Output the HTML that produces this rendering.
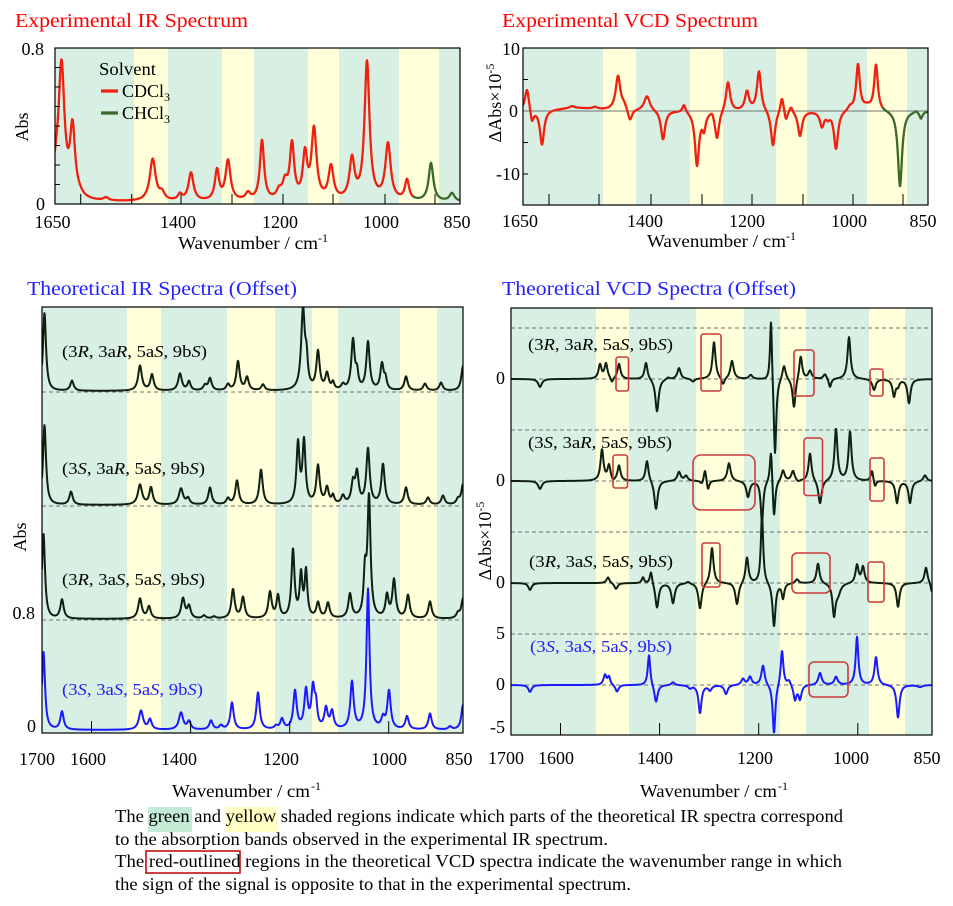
<!DOCTYPE html>
<html><head><meta charset="utf-8">
<style>
html,body{margin:0;padding:0;background:#fff;width:953px;height:906px;overflow:hidden;}
svg{display:block;}
text{font-family:"Liberation Serif",serif;fill:#000;}
</style></head>
<body>
<svg id="s" width="953" height="906" viewBox="0 0 953 906" xmlns="http://www.w3.org/2000/svg">
<defs>
<clipPath id="c1"><rect x="55" y="48" width="405" height="156"/></clipPath>
<clipPath id="c2"><rect x="523" y="48" width="405" height="157"/></clipPath>
<clipPath id="c3"><rect x="42" y="307" width="421" height="426"/></clipPath>
<clipPath id="c4"><rect x="511" y="308" width="421" height="427"/></clipPath>
</defs>
<rect width="953" height="906" fill="#fff"/>

<!-- Titles -->
<text x="15" y="27" font-size="20" style="fill:#ff0000" textLength="233" lengthAdjust="spacingAndGlyphs">Experimental IR Spectrum</text>
<text x="502" y="27" font-size="20" style="fill:#ff0000" textLength="256" lengthAdjust="spacingAndGlyphs">Experimental VCD Spectrum</text>
<text x="27" y="295" font-size="20" style="fill:#2222ff" textLength="270" lengthAdjust="spacingAndGlyphs">Theoretical IR Spectra (Offset)</text>
<text x="502" y="295" font-size="20" style="fill:#2222ff" textLength="294" lengthAdjust="spacingAndGlyphs">Theoretical VCD Spectra (Offset)</text>

<!-- Top-left bands -->
<g>
<rect x="55" y="48" width="79" height="156" fill="#d8f0e3"/>
<rect x="134" y="48" width="34" height="156" fill="#ffffda"/>
<rect x="168" y="48" width="54" height="156" fill="#d8f0e3"/>
<rect x="222" y="48" width="32" height="156" fill="#ffffda"/>
<rect x="254" y="48" width="54" height="156" fill="#d8f0e3"/>
<rect x="308" y="48" width="31" height="156" fill="#ffffda"/>
<rect x="339" y="48" width="60" height="156" fill="#d8f0e3"/>
<rect x="399" y="48" width="40" height="156" fill="#ffffda"/>
<rect x="439" y="48" width="21" height="156" fill="#d8f0e3"/>
</g>
<!-- Top-right bands -->
<g>
<rect x="523" y="48" width="80" height="157" fill="#d8f0e3"/>
<rect x="603" y="48" width="33" height="157" fill="#ffffda"/>
<rect x="636" y="48" width="54" height="157" fill="#d8f0e3"/>
<rect x="690" y="48" width="33" height="157" fill="#ffffda"/>
<rect x="723" y="48" width="53" height="157" fill="#d8f0e3"/>
<rect x="776" y="48" width="31" height="157" fill="#ffffda"/>
<rect x="807" y="48" width="60" height="157" fill="#d8f0e3"/>
<rect x="867" y="48" width="40" height="157" fill="#ffffda"/>
<rect x="907" y="48" width="21" height="157" fill="#d8f0e3"/>
</g>
<!-- Bottom-left bands -->
<g>
<rect x="42" y="307" width="85" height="426" fill="#d8f0e3"/>
<rect x="127" y="307" width="34" height="426" fill="#ffffda"/>
<rect x="161" y="307" width="66" height="426" fill="#d8f0e3"/>
<rect x="227" y="307" width="48" height="426" fill="#ffffda"/>
<rect x="275" y="307" width="37" height="426" fill="#d8f0e3"/>
<rect x="312" y="307" width="26" height="426" fill="#ffffda"/>
<rect x="338" y="307" width="62" height="426" fill="#d8f0e3"/>
<rect x="400" y="307" width="37" height="426" fill="#ffffda"/>
<rect x="437" y="307" width="26" height="426" fill="#d8f0e3"/>
</g>
<!-- Bottom-right bands -->
<g>
<rect x="511" y="308" width="85" height="427" fill="#d8f0e3"/>
<rect x="596" y="308" width="33" height="427" fill="#ffffda"/>
<rect x="629" y="308" width="67" height="427" fill="#d8f0e3"/>
<rect x="696" y="308" width="48" height="427" fill="#ffffda"/>
<rect x="744" y="308" width="36" height="427" fill="#d8f0e3"/>
<rect x="780" y="308" width="26" height="427" fill="#ffffda"/>
<rect x="806" y="308" width="63" height="427" fill="#d8f0e3"/>
<rect x="869" y="308" width="36" height="427" fill="#ffffda"/>
<rect x="905" y="308" width="27" height="427" fill="#d8f0e3"/>
</g>

<!-- zero / dashed lines -->
<line x1="523" y1="111" x2="928" y2="111" stroke="#707070" stroke-width="1"/>
<g stroke="#707070" stroke-width="1" stroke-dasharray="4 3">
<line x1="42" y1="392" x2="463" y2="392"/>
<line x1="42" y1="506" x2="463" y2="506"/>
<line x1="42" y1="620" x2="463" y2="620"/>
<line x1="511" y1="328" x2="932" y2="328"/>
<line x1="511" y1="379" x2="932" y2="379"/>
<line x1="511" y1="430" x2="932" y2="430"/>
<line x1="511" y1="481" x2="932" y2="481"/>
<line x1="511" y1="532" x2="932" y2="532"/>
<line x1="511" y1="583" x2="932" y2="583"/>
<line x1="511" y1="634" x2="932" y2="634"/>
<line x1="511" y1="685" x2="932" y2="685"/>
</g>

<g id="curves"></g>

<!-- frames -->
<g fill="none" stroke="#000" stroke-width="1.2">
<rect x="55" y="48" width="405" height="156"/>
<rect x="523" y="48" width="405" height="157"/>
<rect x="42" y="307" width="421" height="426"/>
<rect x="511" y="308" width="421" height="427"/>
</g>
<!-- ticks -->
<g stroke="#000" stroke-width="1">
<line x1="80.7" y1="204" x2="80.7" y2="194"/><line x1="131.7" y1="204" x2="131.7" y2="194"/>
<line x1="181" y1="204" x2="181" y2="194"/><line x1="232" y1="204" x2="232" y2="194"/>
<line x1="283" y1="204" x2="283" y2="194"/><line x1="333" y1="204" x2="333" y2="194"/>
<line x1="385" y1="204" x2="385" y2="194"/><line x1="435" y1="204" x2="435" y2="194"/>
<line x1="55" y1="67.5" x2="60" y2="67.5"/><line x1="55" y1="87" x2="60" y2="87"/>
<line x1="55" y1="106.5" x2="60" y2="106.5"/><line x1="55" y1="126" x2="60" y2="126"/>
<line x1="55" y1="145.5" x2="60" y2="145.5"/><line x1="55" y1="165" x2="60" y2="165"/>
<line x1="55" y1="184.5" x2="60" y2="184.5"/>

<line x1="549" y1="205" x2="549" y2="194"/><line x1="599" y1="205" x2="599" y2="194"/>
<line x1="651" y1="205" x2="651" y2="194"/><line x1="702" y1="205" x2="702" y2="194"/>
<line x1="752" y1="205" x2="752" y2="194"/><line x1="803" y1="205" x2="803" y2="194"/>
<line x1="853" y1="205" x2="853" y2="194"/><line x1="903" y1="205" x2="903" y2="194"/>
<line x1="523" y1="79.5" x2="528" y2="79.5"/><line x1="523" y1="142.5" x2="528" y2="142.5"/>
<line x1="523" y1="174" x2="528" y2="174"/>

<line x1="91.5" y1="733" x2="91.5" y2="721"/><line x1="190.6" y1="733" x2="190.6" y2="721"/>
<line x1="289.7" y1="733" x2="289.7" y2="721"/><line x1="388.7" y1="733" x2="388.7" y2="721"/>

<line x1="560.5" y1="735" x2="560.5" y2="723"/><line x1="659.6" y1="735" x2="659.6" y2="723"/>
<line x1="758.7" y1="735" x2="758.7" y2="723"/><line x1="857.8" y1="735" x2="857.8" y2="723"/>
</g>

<!-- Top-left labels -->
<g font-size="18">
<text x="44" y="55" text-anchor="end">0.8</text>
<text x="45" y="210" text-anchor="end">0</text>
<text x="52.5" y="228" text-anchor="middle">1650</text>
<text x="178" y="228" text-anchor="middle">1400</text>
<text x="280" y="228" text-anchor="middle">1200</text>
<text x="381" y="228" text-anchor="middle">1000</text>
<text x="457" y="228" text-anchor="middle">850</text>
<text x="178" y="249" textLength="140" lengthAdjust="spacingAndGlyphs">Wavenumber / cm</text><text x="318" y="242" font-size="12">-1</text>
<text transform="translate(28,127) rotate(-90)" text-anchor="middle">Abs</text>
<text x="99" y="75" textLength="57" lengthAdjust="spacingAndGlyphs">Solvent</text>
<text x="122" y="97">CDCl<tspan font-size="12" dy="4">3</tspan></text>
<text x="122" y="119">CHCl<tspan font-size="12" dy="4">3</tspan></text>
</g>
<line x1="101" y1="91" x2="118" y2="91" stroke="#f02010" stroke-width="3.2"/>
<line x1="101" y1="113" x2="118" y2="113" stroke="#3b6a28" stroke-width="3.2"/>

<!-- Top-right labels -->
<g font-size="18">
<text x="520" y="55" text-anchor="end">10</text>
<text x="518" y="117" text-anchor="end">0</text>
<text x="520" y="180" text-anchor="end">-10</text>
<text x="520" y="227" text-anchor="middle">1650</text>
<text x="645" y="227" text-anchor="middle">1400</text>
<text x="747" y="227" text-anchor="middle">1200</text>
<text x="849" y="227" text-anchor="middle">1000</text>
<text x="923" y="227" text-anchor="middle">850</text>
<text x="647" y="247" textLength="139" lengthAdjust="spacingAndGlyphs">Wavenumber / cm</text><text x="786" y="240" font-size="12">-1</text>
<text transform="translate(501,103) rotate(-90)" text-anchor="middle">ΔAbs×10<tspan font-size="12" dy="-7">-5</tspan></text>
</g>

<!-- Bottom-left labels -->
<g font-size="18">
<text x="35" y="619" text-anchor="end">0.8</text>
<text x="36" y="732" text-anchor="end">0</text>
<text x="37" y="765" text-anchor="middle">1700</text>
<text x="88" y="765" text-anchor="middle">1600</text>
<text x="179" y="765" text-anchor="middle">1400</text>
<text x="281" y="765" text-anchor="middle">1200</text>
<text x="389" y="765" text-anchor="middle">1000</text>
<text x="459" y="765" text-anchor="middle">850</text>
<text x="172" y="797" textLength="138" lengthAdjust="spacingAndGlyphs">Wavenumber / cm</text><text x="311" y="790" font-size="12">-1</text>
<text transform="translate(26,537) rotate(-90)" text-anchor="middle">Abs</text>
</g>
<g font-size="17">
<text x="62" y="357" textLength="145" lengthAdjust="spacingAndGlyphs">(3<tspan font-style="italic">R</tspan>, 3a<tspan font-style="italic">R</tspan>, 5a<tspan font-style="italic">S</tspan>, 9b<tspan font-style="italic">S</tspan>)</text>
<text x="62" y="474" textLength="143" lengthAdjust="spacingAndGlyphs">(3<tspan font-style="italic">S</tspan>, 3a<tspan font-style="italic">R</tspan>, 5a<tspan font-style="italic">S</tspan>, 9b<tspan font-style="italic">S</tspan>)</text>
<text x="62" y="585" textLength="143" lengthAdjust="spacingAndGlyphs">(3<tspan font-style="italic">R</tspan>, 3a<tspan font-style="italic">S</tspan>, 5a<tspan font-style="italic">S</tspan>, 9b<tspan font-style="italic">S</tspan>)</text>
<text x="62" y="695" textLength="141" lengthAdjust="spacingAndGlyphs" style="fill:#2020ff">(3<tspan font-style="italic">S</tspan>, 3a<tspan font-style="italic">S</tspan>, 5a<tspan font-style="italic">S</tspan>, 9b<tspan font-style="italic">S</tspan>)</text>
</g>

<!-- Bottom-right labels -->
<g font-size="18">
<text x="505" y="384" text-anchor="end">0</text>
<text x="505" y="486" text-anchor="end">0</text>
<text x="505" y="588" text-anchor="end">0</text>
<text x="505" y="639" text-anchor="end">5</text>
<text x="505" y="690" text-anchor="end">0</text>
<text x="505" y="733" text-anchor="end">-5</text>
<text x="506" y="764" text-anchor="middle">1700</text>
<text x="556" y="764" text-anchor="middle">1600</text>
<text x="655" y="764" text-anchor="middle">1400</text>
<text x="755" y="764" text-anchor="middle">1200</text>
<text x="851" y="764" text-anchor="middle">1000</text>
<text x="927" y="764" text-anchor="middle">850</text>
<text x="640" y="797" textLength="137" lengthAdjust="spacingAndGlyphs">Wavenumber / cm</text><text x="778" y="790" font-size="12">-1</text>
<text transform="translate(491,541) rotate(-90)" text-anchor="middle">ΔAbs×10<tspan font-size="12" dy="-7">-5</tspan></text>
</g>
<g font-size="17">
<text x="528" y="350" textLength="145" lengthAdjust="spacingAndGlyphs">(3<tspan font-style="italic">R</tspan>, 3a<tspan font-style="italic">R</tspan>, 5a<tspan font-style="italic">S</tspan>, 9b<tspan font-style="italic">S</tspan>)</text>
<text x="528" y="448" textLength="144" lengthAdjust="spacingAndGlyphs">(3<tspan font-style="italic">S</tspan>, 3a<tspan font-style="italic">R</tspan>, 5a<tspan font-style="italic">S</tspan>, 9b<tspan font-style="italic">S</tspan>)</text>
<text x="529" y="567" textLength="144" lengthAdjust="spacingAndGlyphs">(3<tspan font-style="italic">R</tspan>, 3a<tspan font-style="italic">S</tspan>, 5a<tspan font-style="italic">S</tspan>, 9b<tspan font-style="italic">S</tspan>)</text>
<text x="530" y="652" textLength="142" lengthAdjust="spacingAndGlyphs" style="fill:#2020ff">(3<tspan font-style="italic">S</tspan>, 3a<tspan font-style="italic">S</tspan>, 5a<tspan font-style="italic">S</tspan>, 9b<tspan font-style="italic">S</tspan>)</text>
</g>

<!-- Red boxes -->
<g fill="none" stroke="#cc3b3b" stroke-width="1.6">
<rect x="616" y="357" width="12.5" height="34" rx="2.5"/>
<rect x="701" y="334" width="20" height="57" rx="2.5"/>
<rect x="794" y="350" width="20" height="46" rx="3"/>
<rect x="870" y="369" width="13" height="27" rx="2.5"/>
<rect x="613" y="455" width="14.5" height="33" rx="2.5"/>
<rect x="693" y="455" width="62" height="55" rx="8"/>
<rect x="804" y="438" width="18.5" height="57.5" rx="3"/>
<rect x="870" y="458" width="14" height="43" rx="2.5"/>
<rect x="702" y="543" width="18" height="44" rx="2.5"/>
<rect x="792" y="553" width="38" height="40" rx="5"/>
<rect x="868" y="562" width="16" height="40" rx="2.5"/>
<rect x="809" y="662" width="39" height="35" rx="5"/>
</g>

<!-- Caption -->
<rect x="148" y="807" width="44" height="25" fill="#c3ead5"/>
<rect x="225" y="807" width="53" height="25" fill="#ffffc4"/>
<rect x="146" y="851" width="94" height="22" fill="none" stroke="#c01010" stroke-width="1.6"/>
<g font-size="18">
<text x="115" y="822" textLength="728" lengthAdjust="spacingAndGlyphs">The green and yellow shaded regions indicate which parts of the theoretical IR spectra correspond</text>
<text x="115" y="845" textLength="493" lengthAdjust="spacingAndGlyphs">to the absorption bands observed in the experimental IR spectrum.</text>
<text x="115" y="867" textLength="727" lengthAdjust="spacingAndGlyphs">The red-outlined regions in the theoretical VCD spectra indicate the wavenumber range in which</text>
<text x="115" y="890" textLength="516" lengthAdjust="spacingAndGlyphs">the sign of the signal is opposite to that in the experimental spectrum.</text>
</g>
</svg>

<script>
(function(){
var NS="http://www.w3.org/2000/svg";
var g=document.getElementById('curves');
function gen(x0,x1,base,peaks){
  var a=[];
  for(var x=x0;x<=x1+1e-6;x+=0.4){
    var y=base;
    for(var i=0;i<peaks.length;i++){var p=peaks[i];var t=(x-p[0])/p[2];y-=p[1]/(1+t*t);}
    a.push([x,y]);
  }
  return a;
}
function toD(a){var s='M';for(var i=0;i<a.length;i++){s+=(i?'L':'')+a[i][0].toFixed(2)+','+a[i][1].toFixed(2);}return s;}
function add(a,color,sw,clip){
  var p=document.createElementNS(NS,'path');
  p.setAttribute('d',toD(a));p.setAttribute('fill','none');p.setAttribute('stroke',color);
  p.setAttribute('stroke-width',sw);p.setAttribute('stroke-linejoin','round');p.setAttribute('stroke-linecap','round');
  p.setAttribute('clip-path','url(#'+clip+')');g.appendChild(p);
}
function split(a,sx){var i=0;while(i<a.length&&a[i][0]<sx)i++;return [a.slice(0,i+1),a.slice(i)];}

// Top-left experimental IR
var ir=gen(55,460,202,[
 [61.5,133,3.6],[72.5,68,3.0],[56,20,3],[79,3,5],[106,3,3],
 [152.7,42,3.5],[162,7,3],[180,6,2.5],[191,28,3],[217,30,2.5],[228,40,3],
 [248,7,3],[262,60,2.5],[279,8,3],[285,16,3],[292,55,2.6],[305,44,2.6],[314,70,3],
 [331,33,3],[352,40,3],[367,138,3],[388,56,3.2],[407,20,2.5],[431,38,2.8],[452,8,3]]);
var s1=split(ir,413);
add(s1[0],'#f02010',2.3,'c1');add(s1[1],'#3b6a28',2.3,'c1');

// Top-right experimental VCD
var vcd=gen(523,928,111,[
 [527,23,2.5],[532,-13,2],[542,-35,2.5],[575,3,25],[572,2,3],[595,2,3],
 [618,34,2.8],[624,5,3],[630,-12,2.5],[647,15,3.5],[663,-29,2.5],[684,8,2],
 [697,-54,2.5],[704,-16,2],[712,4,2],[717,-28,2.5],[728,30,2.5],[747,19,2.5],
 [759,40,2.5],[773,-36,2.5],[782,16,2],[786,-10,1.8],[791,6,2],[800,-25,2.5],
 [822,-15,2.5],[828,-5,2],[836,-38,2.5],[850,4,3],[858,46,2.2],[867,4,5],[876,46,2.2],
 [900,-76,2.5],[916,2,2],[921,-7,1.8]]);
var s2=split(vcd,883);
add(s2[0],'#f02010',2.3,'c2');add(s2[1],'#3b6a28',2.3,'c2');

var DK='#102010';
// Bottom-left theoretical IR
add(gen(42,463,391,[
 [44.5,78,1.8],[72,10,2],[140,25,2.2],[152,16,2],[180,17,2.2],[189,9,1.8],[205,5,2],[210,12,2],
 [228,6,2],[238,29,2],[247,13,2],[263,6,2],[303,80,2.2],[306.5,25,1.5],[318,38,2],[327,16,2],
 [333,7,1.5],[343,5,2],[353,50,2],[357,15,1.5],[368,48,2],[382,26,2],[385.5,10,1.5],[406,14,2],
 [425,7,2],[441,8,2],[463,25,2]]),DK,2,'c3');
add(gen(42,463,505,[
 [44.5,80,1.8],[71,13,2],[140,20,2.5],[151,17,2],[181,16,2.5],[188,6,2],[210,17,2],[228,6,2],
 [237,24,2],[261,35,2],[298,60,1.8],[304,62,1.8],[318,38,2],[327,16,2],[333,8,1.5],[343,8,2],
 [353,20,2],[357,30,2],[368,55,2],[383,40,2],[406,17,2],[428,7,2],[443,9,2],[458,5,2],[463,20,2]]),DK,2,'c3');
add(gen(42,463,619,[
 [43.5,85,1.8],[62,19,2],[140,20,2.2],[149,12,2],[183,20,2.2],[189,12,2],[204,3,2],[214,2,2],
 [233,29,2],[243,21,2],[270,26,2],[278,22,1.8],[293,68,1.8],[301,42,1.6],[306,46,1.6],[318,15,2],
 [328,15,2],[350,24,2],[365,42,1.6],[369,120,1.8],[387,22,1.8],[394,38,2],[408,23,2],[430,17,2],
 [458,5,2],[463,20,2]]),DK,2,'c3');
add(gen(42,463,730,[
 [43.5,78,1.8],[62,18,2],[141,19,2.5],[150,10,2],[181,17,2.5],[189,8,2],[211,9,2],[221,4,2],
 [232,27,2],[258,37,2],[276,3,2],[282,10,2],[295,38,2],[306,38,2],[313,40,2],[316,20,1.5],
 [326,20,2],[332,17,2],[352,47,2],[368,140,1.8],[383,10,2],[389,38,2],[407,13,2],[430,16,2],
 [450,3,2],[463,25,2]]),'#1a1aff',2,'c3');

// Bottom-right theoretical VCD
add(gen(511,932,379,[
 [540,-8,2.2],[600,14,1.8],[606,15,1.8],[612,-5,1.5],[619,15,1.8],[646,17,1.8],[657,-33,2],
 [668,2,2],[679,11,2],[693,-3,2],[714,37,1.8],[723,-7,1.8],[732,18,2],[750.7,4,2],
 [771,66,1.2],[775,-80,1.5],[784,15,2],[794,-30,1.8],[800.7,24,1.8],[810,8,2],[825,5,2],
 [830,-9,1.5],[849,42,1.8],[874,-11,2],[894,-17,1.8],[898,-6,1.5],[909,-24,1.8]]),DK,2,'c4');
add(gen(511,932,481,[
 [540,-8,2.2],[602,31,1.8],[609,15,1.8],[613,-3,1.5],[619,15,1.8],[647,21,1.8],[656,-29,2],
 [679,9,2],[686,5,2],[702,-4,2],[705,13,1.5],[708,-10,1.5],[729,18,2],[748,-16,2],
 [762,-42,1.5],[771,36,1.4],[774,-40,1.5],[783,11,2],[793,10,2],[798,-2,2],[810,28,1.8],
 [820,-24,2],[836,52,1.8],[850,49,1.8],[872,11,1.5],[875,-7,1.5],[897,-22,1.8],[910,-22,1.8],
 [925,6,2]]),DK,2,'c4');
add(gen(511,932,583,[
 [530,-7,2],[608,6,1.8],[616,-6,2],[643,6,1.5],[651,13,1.5],[657,-25,2],[673,-20,2],[688,2,2],
 [700,-26,2],[712,36,1.8],[737,-22,2],[747,26,1.8],[762,70,1.4],[774,-44,1.8],[783,-15,1.5],
 [797,4,2],[818,20,1.8],[834,-31,1.8],[838,-10,3],[857,18,1.8],[863,16,1.8],[898,-24,1.8],
 [926,16,1.8],[932,-10,1.5]]),DK,2,'c4');
add(gen(511,932,685,[
 [530,-7,2],[605,10,1.8],[609,8,1.5],[617,-7,2],[649,31,1.5],[656,-18,2],[673,3,2],[690,-3,2],
 [700,-28,1.8],[710,-5,2],[726,-9,2],[743,6,2],[750,8,2],[763,20,2],[774,-50,1.6],[782,36,1.6],
 [789,5,2],[795,-15,1.8],[800,-14,1.8],[820,12,2],[836,8,2],[857,48,1.6],[876,28,1.8],
 [898,-33,1.8],[920,-2,3]]),'#1a1aff',2,'c4');
})();
</script>
</body></html>
